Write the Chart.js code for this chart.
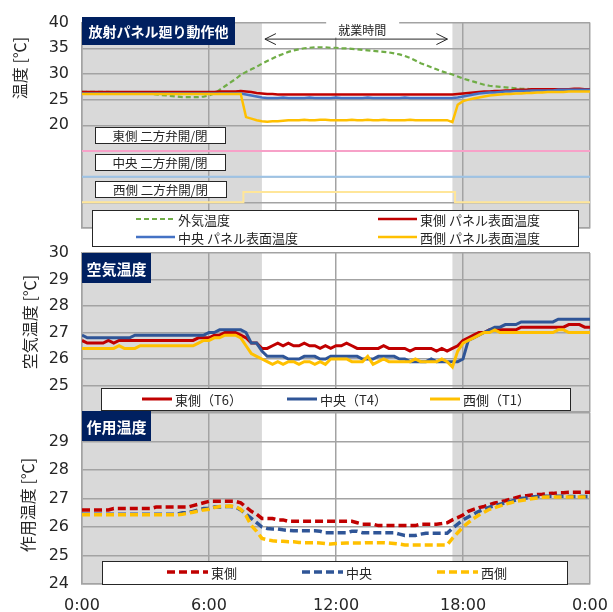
<!DOCTYPE html>
<html>
<head>
<meta charset="utf-8">
<script src="https://cdn.jsdelivr.net/npm/chart.js@4/dist/chart.umd.min.js"></script>
<style>
  html, body { margin: 0; padding: 0; background: #fff; }
  #wrap { position: relative; width: 613px; height: 612px; }
  #wrap canvas { position: absolute; left: 0; top: 0; }
</style>
</head>
<body>
<div id="wrap">
  <canvas id="panel1" width="613" height="612"></canvas>
  <canvas id="panel2" width="613" height="612"></canvas>
  <canvas id="panel3" width="613" height="612"></canvas>
</div>
<script>
// time stamps: every 15 min from 0:00 to 24:00
var hours = [];
for (var i = 0; i <= 96; i++) hours.push(i / 4);

var workHours = [8.5, 17.5];
var xTickLabels = ['0:00', '6:00', '12:00', '18:00', '0:00'];

// panel 1 : panel surface temperatures and outside air
var outsideTemp = [
  26.5, 26.5, 26.5, 26.5, 26.5, 26.5, 26.4, 26.4, 26.4, 26.4, 26.3, 26.3,
  26.2, 26.1, 26.0, 25.9, 25.8, 25.7, 25.6, 25.5, 25.5, 25.5, 25.5, 25.6,
  25.8, 26.2, 26.9, 27.6, 28.3, 29.0, 29.8, 30.4, 30.9, 31.4, 32.0, 32.5,
  33.0, 33.5, 33.9, 34.3, 34.6, 34.8, 35.0, 35.1, 35.2, 35.2, 35.2, 35.1,
  35.1, 35.0, 35.0, 34.9, 34.8, 34.7, 34.6, 34.5, 34.4, 34.3, 34.2, 34.0,
  33.8, 33.5, 33.1, 32.6, 32.1, 31.7, 31.3, 30.9, 30.5, 30.2, 29.9, 29.5,
  29.1, 28.8, 28.5, 28.2, 27.9, 27.7, 27.6, 27.5, 27.4, 27.3, 27.2, 27.1,
  27.1, 27.0, 27.0, 27.0, 26.9, 26.9, 26.9, 26.9, 26.9, 26.9, 26.9, 26.9,
  26.9
];
var eastPanel = [
  26.5, 26.5, 26.5, 26.5, 26.5, 26.5, 26.5, 26.5, 26.5, 26.5, 26.5, 26.5,
  26.5, 26.5, 26.5, 26.5, 26.5, 26.5, 26.5, 26.5, 26.5, 26.5, 26.5, 26.5,
  26.5, 26.5, 26.6, 26.6, 26.6, 26.6, 26.7, 26.6, 26.5, 26.3, 26.2, 26.1,
  26.1, 26.0, 26.0, 26.0, 26.0, 26.0, 26.0, 26.0, 26.0, 26.0, 26.0, 26.0,
  26.0, 26.0, 26.0, 26.0, 26.0, 26.0, 26.0, 26.0, 26.0, 26.0, 26.0, 26.0,
  26.0, 26.0, 26.0, 26.0, 26.0, 26.0, 26.0, 26.0, 26.0, 26.0, 26.0, 26.1,
  26.2, 26.3, 26.4, 26.5, 26.6, 26.6, 26.7, 26.7, 26.8, 26.8, 26.9, 26.9,
  26.9, 27.0, 27.0, 27.0, 27.0, 27.0, 27.0, 27.0, 27.0, 27.1, 27.1, 27.0,
  27.0
];
var centerPanel = [
  26.2, 26.2, 26.2, 26.2, 26.2, 26.2, 26.2, 26.2, 26.2, 26.2, 26.2, 26.2,
  26.2, 26.2, 26.2, 26.2, 26.2, 26.2, 26.2, 26.2, 26.2, 26.2, 26.2, 26.2,
  26.2, 26.2, 26.2, 26.2, 26.2, 26.2, 26.2, 26.0, 25.8, 25.6, 25.4, 25.3,
  25.3, 25.3, 25.4, 25.3, 25.3, 25.3, 25.3, 25.4, 25.3, 25.3, 25.3, 25.3,
  25.4, 25.3, 25.3, 25.3, 25.3, 25.3, 25.4, 25.3, 25.3, 25.3, 25.3, 25.3,
  25.3, 25.4, 25.3, 25.3, 25.3, 25.3, 25.3, 25.3, 25.3, 25.3, 25.3, 25.4,
  25.6, 25.8, 26.0, 26.2, 26.3, 26.4, 26.4, 26.5, 26.6, 26.6, 26.7, 26.7,
  26.7, 26.8, 26.8, 26.8, 26.8, 26.8, 26.9, 26.9, 26.9, 26.9, 26.9, 26.9,
  26.9
];
var westPanel = [
  26.1, 26.1, 26.1, 26.1, 26.1, 26.1, 26.1, 26.1, 26.1, 26.1, 26.1, 26.1,
  26.1, 26.1, 26.1, 26.1, 26.1, 26.1, 26.1, 26.1, 26.1, 26.1, 26.1, 26.1,
  26.1, 26.1, 26.1, 26.1, 26.1, 26.1, 26.1, 21.6, 21.3, 21.0, 20.8, 20.7,
  20.8, 20.8, 20.9, 21.0, 21.0, 21.0, 21.1, 21.0, 21.0, 21.1, 21.1, 21.0,
  21.0, 21.0, 21.0, 21.1, 21.0, 21.0, 21.1, 21.0, 21.0, 21.1, 21.0, 21.0,
  21.0, 21.0, 21.1, 21.0, 21.0, 21.0, 21.0, 21.0, 21.0, 21.0, 20.6, 24.0,
  24.7, 25.0, 25.2, 25.4, 25.6, 25.8, 25.9, 26.0, 26.1, 26.1, 26.2, 26.2,
  26.3, 26.3, 26.4, 26.4, 26.5, 26.5, 26.5, 26.5, 26.6, 26.6, 26.6, 26.6,
  26.6
];
// two-way valve state, one character per 15 min (1 = open)
var eastValve   = '0000 0000 0000 0000 0000 0000 0000 0000 0000 0000 0000 0000 0000 0000 0000 0000 0000 0000 0000 0000 0000 0000 0000 0000 0';
var centerValve = '0000 0000 0000 0000 0000 0000 0000 0000 0000 0000 0000 0000 0000 0000 0000 0000 0000 0000 0000 0000 0000 0000 0000 0000 0';
var westValve   = '0000 0000 0000 0000 0000 0000 0000 0001 1111 1111 1111 1111 1111 1111 1111 1111 1111 1110 0000 0000 0000 0000 0000 0000 0';

// panel 2 : air temperature
var airEast = [
  26.7, 26.6, 26.6, 26.6, 26.6, 26.7, 26.6, 26.7, 26.7, 26.7, 26.7, 26.7,
  26.7, 26.7, 26.7, 26.7, 26.7, 26.7, 26.7, 26.7, 26.7, 26.7, 26.8, 26.8,
  26.8, 26.9, 26.9, 27.0, 27.0, 27.0, 26.9, 26.8, 26.6, 26.6, 26.4, 26.4,
  26.5, 26.6, 26.5, 26.6, 26.5, 26.5, 26.6, 26.5, 26.5, 26.4, 26.5, 26.4,
  26.5, 26.5, 26.6, 26.5, 26.4, 26.4, 26.4, 26.4, 26.4, 26.5, 26.4, 26.4,
  26.4, 26.4, 26.3, 26.4, 26.4, 26.4, 26.4, 26.3, 26.4, 26.3, 26.4, 26.5,
  26.7, 26.8, 26.9, 27.0, 27.0, 27.1, 27.1, 27.1, 27.1, 27.1, 27.1, 27.2,
  27.2, 27.2, 27.2, 27.2, 27.2, 27.2, 27.2, 27.2, 27.3, 27.3, 27.3, 27.2,
  27.2
];
var airCenter = [
  26.9, 26.8, 26.8, 26.8, 26.8, 26.8, 26.8, 26.8, 26.8, 26.8, 26.9, 26.9,
  26.9, 26.9, 26.9, 26.9, 26.9, 26.9, 26.9, 26.9, 26.9, 26.9, 26.9, 26.9,
  27.0, 27.0, 27.1, 27.1, 27.1, 27.1, 27.1, 27.0, 26.6, 26.6, 26.3, 26.1,
  26.1, 26.1, 26.1, 26.0, 26.0, 26.0, 26.1, 26.1, 26.1, 26.0, 26.0, 26.1,
  26.1, 26.1, 26.1, 26.1, 26.1, 26.0, 26.0, 26.0, 26.1, 26.1, 26.1, 26.1,
  26.0, 26.0, 25.9, 25.9, 25.9, 25.9, 26.0, 25.9, 25.9, 25.9, 25.9, 25.9,
  26.0, 26.7, 26.8, 26.9, 27.0, 27.1, 27.2, 27.2, 27.3, 27.3, 27.3, 27.4,
  27.4, 27.4, 27.4, 27.4, 27.4, 27.4, 27.5, 27.5, 27.5, 27.5, 27.5, 27.5,
  27.5
];
var airWest = [
  26.4, 26.4, 26.4, 26.4, 26.4, 26.4, 26.4, 26.5, 26.4, 26.4, 26.4, 26.5,
  26.5, 26.5, 26.5, 26.5, 26.5, 26.5, 26.5, 26.5, 26.5, 26.5, 26.6, 26.7,
  26.7, 26.8, 26.8, 26.9, 26.9, 26.9, 26.8, 26.5, 26.2, 26.1, 26.0, 25.9,
  25.8, 25.9, 25.8, 25.9, 25.9, 25.8, 25.9, 25.9, 25.8, 25.9, 25.8, 26.0,
  26.0, 26.0, 26.0, 25.9, 25.9, 25.9, 26.1, 25.8, 25.9, 26.0, 25.9, 25.9,
  25.9, 25.9, 25.9, 26.0, 25.9, 25.9, 25.9, 25.9, 26.0, 25.9, 25.7, 26.3,
  26.6, 26.7, 26.8, 26.9, 27.0, 27.0, 27.1, 27.0, 27.0, 27.0, 27.0, 27.0,
  27.0, 27.0, 27.0, 27.0, 27.0, 27.0, 27.1, 27.1, 27.0, 27.0, 27.0, 27.0,
  27.0
];

// panel 3 : operative temperature
var opEast = [
  26.6, 26.6, 26.6, 26.6, 26.6, 26.6, 26.65, 26.65, 26.65, 26.65, 26.65, 26.65,
  26.65, 26.65, 26.7, 26.7, 26.7, 26.7, 26.7, 26.7, 26.7, 26.75, 26.8, 26.85,
  26.9, 26.9, 26.9, 26.9, 26.9, 26.9, 26.85, 26.7, 26.55, 26.45, 26.3, 26.3,
  26.3, 26.25, 26.25, 26.2, 26.2, 26.2, 26.2, 26.2, 26.2, 26.2, 26.2, 26.2,
  26.2, 26.2, 26.2, 26.2, 26.15, 26.1, 26.1, 26.1, 26.05, 26.05, 26.05, 26.05,
  26.05, 26.05, 26.05, 26.05, 26.1, 26.1, 26.1, 26.1, 26.12, 26.15, 26.25, 26.33,
  26.42, 26.55, 26.62, 26.68, 26.72, 26.78, 26.84, 26.88, 26.92, 26.98, 27.03, 27.08,
  27.1, 27.12, 27.14, 27.15, 27.17, 27.18, 27.2, 27.2, 27.22, 27.22, 27.22, 27.22,
  27.22
];
var opCenter = [
  26.45, 26.45, 26.45, 26.45, 26.45, 26.45, 26.45, 26.45, 26.45, 26.45, 26.45, 26.45,
  26.45, 26.45, 26.45, 26.45, 26.45, 26.45, 26.45, 26.5, 26.5, 26.55, 26.6, 26.65,
  26.65, 26.7, 26.7, 26.72, 26.72, 26.7, 26.6, 26.45, 26.3, 26.15, 26.0, 25.95,
  25.93, 25.93, 25.9, 25.88, 25.87, 25.87, 25.87, 25.87, 25.87, 25.85, 25.8, 25.8,
  25.8, 25.8, 25.8, 25.85, 25.85, 25.8, 25.8, 25.8, 25.8, 25.8, 25.8, 25.8,
  25.75, 25.7, 25.7, 25.7, 25.75, 25.78, 25.78, 25.78, 25.78, 25.78, 25.95, 26.1,
  26.25, 26.35, 26.45, 26.55, 26.62, 26.7, 26.75, 26.8, 26.85, 26.9, 26.95, 27.0,
  27.02, 27.05, 27.07, 27.08, 27.08, 27.08, 27.08, 27.08, 27.07, 27.07, 27.07, 27.07,
  27.07
];
var opWest = [
  26.43, 26.43, 26.43, 26.43, 26.43, 26.43, 26.43, 26.43, 26.43, 26.43, 26.43, 26.43,
  26.43, 26.43, 26.43, 26.43, 26.43, 26.43, 26.43, 26.45, 26.48, 26.52, 26.56, 26.6,
  26.62, 26.68, 26.72, 26.72, 26.74, 26.72, 26.62, 26.4, 26.05, 25.85, 25.6, 25.55,
  25.52, 25.5, 25.5, 25.48, 25.48, 25.46, 25.45, 25.45, 25.45, 25.44, 25.42, 25.4,
  25.42, 25.43, 25.44, 25.44, 25.44, 25.44, 25.45, 25.45, 25.45, 25.45, 25.44, 25.42,
  25.4, 25.37, 25.37, 25.37, 25.37, 25.37, 25.37, 25.37, 25.37, 25.37, 25.6, 25.8,
  26.0, 26.15, 26.3, 26.42, 26.52, 26.62, 26.68, 26.74, 26.8, 26.85, 26.9, 26.93,
  26.96, 26.99, 27.02, 27.04, 27.05, 27.05, 27.05, 27.05, 27.05, 27.05, 27.05, 27.05,
  27.05
];

var TEXT = '#262626';
var GRID = '#a3a3a3';
var TICK_FONT = { family: '"DejaVu Sans", sans-serif', size: 16 };
var JP_FONT = '"Noto Sans CJK JP", "DejaVu Sans", sans-serif';
// closed level of each valve trace on panel 1, an open valve is drawn 2 higher
var VALVE_BASE = { east: 15, center: 10, west: 5 };

function pts(vals) {
  return vals.map(function (v, i) { return { x: hours[i], y: v }; });
}
function valvePts(states, base) {
  var s = states.replace(/ /g, '').split('');
  return s.map(function (c, i) { return { x: hours[i], y: base + 2 * Number(c) }; });
}
function line(label, data, color, width, dash) {
  return {
    label: label, data: data, borderColor: color, borderWidth: width,
    borderDash: dash || [], pointRadius: 0, fill: false, tension: 0
  };
}

var decorPlugin = {
  id: 'decor',
  beforeDraw: function (chart) {
    var ctx = chart.ctx, a = chart.chartArea, x = chart.scales.x;
    var w0 = x.getPixelForValue(workHours[0]), w1 = x.getPixelForValue(workHours[1]);
    ctx.save();
    ctx.fillStyle = '#d9d9d9';
    ctx.fillRect(a.left, a.top, w0 - a.left, a.bottom - a.top);
    ctx.fillRect(w1, a.top, a.right - w1, a.bottom - a.top);
    ctx.restore();
  },
  afterDraw: function (chart, args, opts) {
    var ctx = chart.ctx, ds = chart.data.datasets;
    ctx.save();

    // axis title, rotated
    var yt = opts.yTitle;
    ctx.translate(yt.x, yt.y);
    ctx.rotate(-Math.PI / 2);
    ctx.fillStyle = TEXT;
    ctx.font = '16px ' + JP_FONT;
    ctx.textAlign = 'center';
    ctx.textBaseline = 'middle';
    ctx.fillText(yt.text, 0, 0);
    ctx.setTransform(1, 0, 0, 1, 0, 0);

    // panel name
    var tb = opts.titleBox;
    ctx.fillStyle = '#002060';
    ctx.fillRect(tb.x, tb.y, tb.w, tb.h);
    ctx.fillStyle = '#fff';
    ctx.font = 'bold ' + tb.size + 'px ' + JP_FONT;
    ctx.fillText(tb.text, tb.x + tb.w / 2, tb.y + tb.h / 2 + 1);

    // valve name boxes
    (opts.tags || []).forEach(function (t) {
      ctx.fillStyle = '#fff';
      ctx.fillRect(t.x, t.y, t.w, t.h);
      ctx.strokeStyle = TEXT;
      ctx.lineWidth = 1;
      ctx.strokeRect(t.x + 0.5, t.y + 0.5, t.w, t.h);
      ctx.fillStyle = TEXT;
      ctx.font = '12.5px ' + JP_FONT;
      ctx.fillText(ds[t.ds].label, t.x + t.w / 2, t.y + t.h / 2 + 1);
    });

    // working hours arrow
    if (opts.workArrow) {
      var x = chart.scales.x, top = chart.chartArea.top;
      var x0 = x.getPixelForValue(workHours[0]) + 3, x1 = x.getPixelForValue(workHours[1]) - 5;
      var mid = x.getPixelForValue((workHours[0] + workHours[1]) / 2) + 5;
      ctx.fillStyle = '#fff';
      ctx.fillRect(mid - 36, top - 1, 73, 16);
      ctx.fillStyle = TEXT;
      ctx.font = '12px ' + JP_FONT;
      ctx.fillText('就業時間', mid, top + 8);
      ctx.strokeStyle = TEXT;
      ctx.lineWidth = 1;
      ctx.beginPath();
      ctx.moveTo(x0, top + 16.5); ctx.lineTo(x1, top + 16.5);
      ctx.moveTo(x0 + 11, top + 11); ctx.lineTo(x0, top + 16.5); ctx.lineTo(x0 + 11, top + 22);
      ctx.moveTo(x1 - 11, top + 11); ctx.lineTo(x1, top + 16.5); ctx.lineTo(x1 - 11, top + 22);
      ctx.stroke();
    }

    // legend box
    var lg = opts.legend;
    ctx.fillStyle = '#fff';
    ctx.fillRect(lg.box[0], lg.box[1], lg.box[2], lg.box[3]);
    ctx.strokeStyle = TEXT;
    ctx.lineWidth = 1;
    ctx.strokeRect(lg.box[0] + 0.5, lg.box[1] + 0.5, lg.box[2], lg.box[3]);
    ctx.textAlign = 'left';
    lg.items.forEach(function (it) {
      var d = ds[it.ds];
      ctx.beginPath();
      ctx.setLineDash(d.borderDash || []);
      ctx.strokeStyle = d.borderColor;
      ctx.lineWidth = d.borderWidth;
      ctx.moveTo(it.x, it.y);
      ctx.lineTo(it.x + lg.len, it.y);
      ctx.stroke();
      ctx.setLineDash([]);
      ctx.fillStyle = TEXT;
      ctx.font = '13px ' + JP_FONT;
      ctx.fillText(d.label, it.x + lg.len + 3, it.y + 1);
    });
    ctx.restore();
  }
};

function makeChart(id, datasets, y, showX, padding, decor) {
  return new Chart(document.getElementById(id), {
    type: 'line',
    data: { datasets: datasets },
    plugins: [decorPlugin],
    options: {
      responsive: false,
      animation: false,
      events: [],
      layout: { padding: padding, autoPadding: false },
      plugins: { legend: { display: false }, tooltip: { enabled: false }, decor: decor },
      scales: {
        x: {
          type: 'linear', min: 0, max: 24,
          ticks: {
            display: showX, stepSize: 6, padding: 12, maxRotation: 0, autoSkip: false,
            color: TEXT, font: TICK_FONT,
            callback: function (v) { return xTickLabels[v / 6]; }
          },
          grid: { color: GRID, lineWidth: 1.5, drawTicks: false },
          border: { color: GRID, width: 1.5 },
          afterFit: function (s) {
            s.height = showX ? 28 : 0;
            s.paddingLeft = 0;
            s.paddingRight = 0;
          }
        },
        y: {
          min: y.min, max: y.max,
          ticks: {
            stepSize: y.step, padding: 13, color: TEXT, font: TICK_FONT,
            callback: function (v) { return (v >= y.from && v <= y.to) ? v : ''; }
          },
          grid: { color: GRID, lineWidth: 1.5, drawTicks: false },
          border: { color: GRID, width: 1.5 },
          afterFit: function (s) { s.width = 82; }
        }
      }
    }
  });
}

// panel 1
makeChart('panel1', [
  line('西側 パネル表面温度', pts(westPanel), '#FFC000', 2.5),
  line('中央 パネル表面温度', pts(centerPanel), '#4472C4', 2.5),
  line('東側 パネル表面温度', pts(eastPanel), '#C00000', 2.5),
  line('外気温度', pts(outsideTemp), '#70AD47', 2.2, [5, 3]),
  Object.assign(line('西側 二方弁開/閉', valvePts(westValve, VALVE_BASE.west), '#FFE699', 2), { stepped: 'middle' }),
  line('中央 二方弁開/閉', valvePts(centerValve, VALVE_BASE.center), '#9DC3E6', 2),
  line('東側 二方弁開/閉', valvePts(eastValve, VALVE_BASE.east), '#F7A1C8', 2)
], { min: 0, max: 40, step: 5, from: 20, to: 40 }, false,
  { left: 0, right: 23, top: 17, bottom: 384 },
  {
    yTitle: { text: '温度 [℃]', x: 20, y: 68 },
    titleBox: { x: 82, y: 17, w: 153, h: 28, size: 14, text: '放射パネル廻り動作他' },
    tags: [
      { ds: 6, x: 95, y: 127, w: 130, h: 16 },
      { ds: 5, x: 95, y: 154, w: 130, h: 16 },
      { ds: 4, x: 95, y: 181, w: 131, h: 16 }
    ],
    workArrow: true,
    legend: {
      box: [92, 210, 486, 36], len: 39,
      items: [{ ds: 3, x: 136, y: 219 }, { ds: 2, x: 378, y: 219 }, { ds: 1, x: 136, y: 237 }, { ds: 0, x: 378, y: 237 }]
    }
  });

// panel 2
makeChart('panel2', [
  line('西側（T1）', pts(airWest), '#FFC000', 3),
  line('中央（T4）', pts(airCenter), '#2F5597', 3),
  line('東側（T6）', pts(airEast), '#C00000', 3)
], { min: 24, max: 30, step: 1, from: 25, to: 30 }, false,
  { left: 0, right: 23, top: 253, bottom: 200 },
  {
    yTitle: { text: '空気温度 [℃]', x: 30, y: 322 },
    titleBox: { x: 82, y: 253, w: 69, h: 30, size: 15, text: '空気温度' },
    legend: {
      box: [101, 388, 469, 22], len: 30,
      items: [{ ds: 2, x: 142, y: 399 }, { ds: 1, x: 287, y: 399 }, { ds: 0, x: 430, y: 399 }]
    }
  });

// panel 3
makeChart('panel3', [
  line('西側', pts(opWest), '#FFC000', 3.5, [8, 4]),
  line('中央', pts(opCenter), '#2F5597', 3.5, [8, 4]),
  line('東側', pts(opEast), '#C00000', 3.5, [8, 4])
], { min: 24, max: 30, step: 1, from: 24, to: 29 }, true,
  { left: 0, right: 23, top: 413, bottom: 0 },
  {
    yTitle: { text: '作用温度 [℃]', x: 28, y: 505 },
    titleBox: { x: 82, y: 411, w: 69, h: 30, size: 15, text: '作用温度' },
    legend: {
      box: [102, 561, 465, 23], len: 41,
      items: [{ ds: 2, x: 167, y: 572 }, { ds: 1, x: 302, y: 572 }, { ds: 0, x: 437, y: 572 }]
    }
  });
</script>
</body>
</html>
